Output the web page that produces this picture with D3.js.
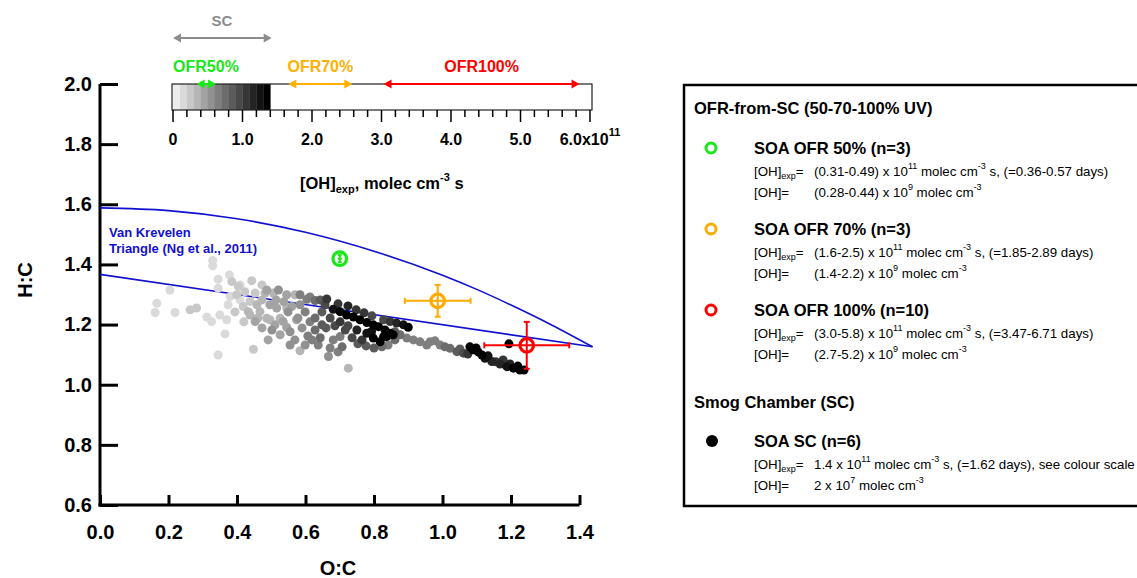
<!DOCTYPE html>
<html><head><meta charset="utf-8">
<script src="https://cdn.jsdelivr.net/npm/d3@7"></script>
<style>body{margin:0;background:#fff}svg{display:block;font-family:Arial,"Liberation Sans",sans-serif}</style>
</head><body><svg id="c" width="1137" height="578"></svg>
<script>
// ---------- data ----------
const xTicks = [0, 0.2, 0.4, 0.6, 0.8, 1.0, 1.2, 1.4];
const yTicks = [0.6, 0.8, 1.0, 1.2, 1.4, 1.6, 1.8, 2.0];
const cbMajorTicks = [0, 1, 2, 3, 4, 5, 6];
const cbTickLabels = ["0", "1.0", "2.0", "3.0", "4.0", "5.0", "6.0x10"];
const cbBands = [0, 0.1, 0.2, 0.3, 0.4, 0.5, 0.6, 0.7, 0.8, 0.9, 1.0, 1.1, 1.2, 1.3];

// Van Krevelen triangle (Ng et al., 2011)
const vkUpperOC = [0, 0.2, 0.4, 0.6, 0.8, 1.0, 1.1, 1.2, 1.32, 1.438];
const vkUpperHC = [1.588, 1.579, 1.552, 1.507, 1.444, 1.364, 1.317, 1.265, 1.198, 1.126];
const vkLowerOC = [0, 1.438];
const vkLowerHC = [1.367, 1.126];

// Smog chamber SOA points: O:C, H:C, OH exposure (1e11 molec cm-3 s)
const scOC = [0.329,0.329,0.378,0.443,0.345,0.385,0.404,0.409,0.345,0.204,0.166,0.161,0.219,0.263,0.282,0.312,0.326,0.350,0.370,0.365,0.345,0.448,0.380,0.399,0.409,0.418,0.438,0.433,0.453,0.458,0.453,0.467,0.482,0.487,0.496,0.506,0.516,0.526,0.535,0.545,0.545,0.560,0.569,0.574,0.511,0.545,0.487,0.521,0.584,0.667,0.725,0.604,0.628,0.662,0.681,0.701,0.584,0.599,0.578,0.613,0.590,0.628,0.607,0.643,0.555,0.569,0.648,0.672,0.660,0.686,0.637,0.672,0.707,0.549,0.681,0.701,0.720,0.740,0.759,0.779,0.798,0.813,0.832,0.847,0.856,0.695,0.724,0.748,0.771,0.794,0.750,0.779,0.798,0.818,0.793,0.724,0.765,0.837,0.828,0.828,0.847,0.866,0.886,0.900,0.876,0.896,0.915,0.934,0.954,0.964,0.993,1.022,1.042,1.061,0.861,0.841,1.089,1.104,1.115,1.124,1.144,1.168,1.188,1.207,1.226,1.238,1.156,1.194,
  0.473,0.496,0.473,0.502,0.526,0.491,0.555,0.599,0.619,0.584,0.613,0.643,0.657,0.628,0.648,0.701,0.716,0.736,0.753,0.777,0.800,0.823,0.695,0.438,0.461,0.420,0.394,0.374,0.423,0.473,0.514,0.537,0.861,0.978,1.007,1.051,1.074,1.080,1.098,1.133,1.177,1.197,1.220];
const scHC = [1.413,1.395,1.365,1.346,1.351,1.343,1.327,1.332,1.321,1.315,1.271,1.240,1.240,1.249,1.255,1.225,1.210,1.232,1.216,1.169,1.099,1.118,1.293,1.299,1.282,1.260,1.277,1.243,1.305,1.266,1.210,1.243,1.305,1.221,1.216,1.305,1.255,1.221,1.210,1.299,1.255,1.260,1.299,1.216,1.199,1.191,1.315,1.315,1.113,1.094,1.055,1.284,1.280,1.285,1.149,1.160,1.266,1.242,1.222,1.209,1.189,1.182,1.162,1.156,1.176,1.149,1.242,1.222,1.189,1.196,1.132,1.122,1.126,1.242,1.251,1.243,1.232,1.225,1.216,1.207,1.199,1.193,1.182,1.171,1.166,1.269,1.262,1.249,1.239,1.229,1.182,1.171,1.155,1.143,1.177,1.196,1.149,1.160,1.160,1.216,1.210,1.205,1.199,1.191,1.166,1.155,1.149,1.143,1.132,1.143,1.132,1.121,1.110,1.105,1.149,1.132,1.116,1.109,1.099,1.088,1.077,1.069,1.060,1.055,1.049,1.049,1.076,1.136,
  1.282,1.266,1.189,1.182,1.166,1.149,1.132,1.132,1.149,1.299,1.292,1.282,1.266,1.222,1.199,1.209,1.182,1.156,1.136,1.129,1.122,1.126,1.109,1.232,1.222,1.209,1.242,1.266,1.309,1.332,1.282,1.276,1.176,1.146,1.126,1.119,1.102,1.126,1.122,1.096,1.082,1.069,1.062];
const scOH = [0.1,0.1,0.15,0.2,0.1,0.2,0.2,0.15,0.1,0.1,0.1,0.1,0.1,0.2,0.2,0.1,0.1,0.15,0.15,0.1,0.1,0.2,0.15,0.2,0.1,0.25,0.2,0.3,0.25,0.3,0.4,0.3,0.3,0.35,0.3,0.35,0.45,0.35,0.45,0.4,0.35,0.4,0.3,0.45,0.4,0.45,0.45,0.5,0.35,0.5,0.3,0.6,0.7,1.0,0.6,0.6,0.55,0.6,0.5,0.65,0.55,0.7,0.6,0.7,0.5,0.55,0.85,0.9,0.8,0.9,0.6,0.65,0.7,0.5,1.2,1.3,1.35,1.35,1.35,1.35,1.35,1.35,1.35,1.35,1.35,1.05,1.1,1.0,1.0,0.9,1.1,1.2,1.3,1.3,1.25,0.95,1.0,1.35,1.35,0.9,1.0,1.1,1.2,1.3,0.7,0.6,0.6,0.6,0.65,0.6,0.65,0.7,0.8,0.9,0.7,0.6,1.35,1.35,1.35,1.2,1.1,1.1,1.2,1.35,1.35,1.35,1.0,1.35,
  0.35,0.4,0.45,0.5,0.45,0.4,0.5,0.55,0.6,0.6,0.65,0.8,0.9,0.75,0.8,1.0,0.9,0.9,0.8,0.85,0.8,0.7,0.6,0.3,0.35,0.25,0.2,0.15,0.2,0.25,0.4,0.45,0.8,0.6,0.7,0.85,1.0,1.3,1.35,1.2,1.0,1.1,1.3];

// OFR averages with error bars
const ofrNames = ["OFR 50%", "OFR 70%", "OFR 100%"];
const ofrColors = ["#18e818", "#ffaa00", "#ff0000"];
const ofrOC = [0.700, 0.986, 1.246];
const ofrHC = [1.419, 1.279, 1.131];
const ofrOCerr = [0.006, 0.096, 0.124];
const ofrHCerr = [0.012, 0.053, 0.078];

// colour-scale range arrows (OH exposure, 1e11 molec cm-3 s)
const rangeNames = ["SC", "OFR50%", "OFR70%", "OFR100%"];
const rangeColors = ["#8c8c8c", "#18e818", "#ffb000", "#ff0000"];
const rangeLo = [0, 0.34, 1.66, 3.03];
const rangeHi = [1.42, 0.62, 2.58, 5.85];

// legend
const legendHeaders = ["OFR-from-SC (50-70-100% UV)", "Smog Chamber (SC)"];
const legendNames = ["SOA OFR 50% (n=3)", "SOA OFR 70% (n=3)", "SOA OFR 100% (n=10)", "SOA SC (n=6)"];
const legendExpRange = ["(0.31-0.49) x 10", "(1.6-2.5) x 10", "(3.0-5.8) x 10", "1.4 x 10"];
const legendExpDays = [" s, (=0.36-0.57 days)", " s, (=1.85-2.89 days)", " s, (=3.47-6.71 days)", " s, (=1.62 days), see colour scale"];
const legendOHRange = ["(0.28-0.44) x 10", "(1.4-2.2) x 10", "(2.7-5.2) x 10", "2 x 10"];
const legendOHPow = ["9", "9", "9", "7"];

// ---------- drawing ----------
const svg = d3.select("#c");
const x = d3.scaleLinear([0, 1.4], [100, 579.5]);
const y = d3.scaleLinear([0.6, 2.0], [505, 84]);
const cb = d3.scaleLinear([0, 6], [173, 590]);
const grey = v => { const i = Math.min(13, Math.floor(v * 10 + 1e-6)); const g = Math.round(236 - i * 236 / 13); return d3.rgb(g, g, g).toString(); };
const F = "Arial, 'Liberation Sans', sans-serif";

// Axes
const gx = svg.append("g").attr("transform", "translate(0,505)")
  .call(d3.axisBottom(x).tickValues(xTicks).tickFormat(d3.format(".1f")).tickSize(-10).tickSizeOuter(0).tickPadding(20));
const gy = svg.append("g").attr("transform", "translate(100,0)")
  .call(d3.axisLeft(y).tickValues(yTicks).tickFormat(d3.format(".1f")).tickSize(-18).tickSizeOuter(0).tickPadding(8));
[gx, gy].forEach(g => {
  g.select(".domain").attr("stroke", "#000").attr("stroke-width", 3);
  g.selectAll(".tick line").attr("stroke", "#000").attr("stroke-width", 3);
  g.selectAll(".tick text").attr("fill", "#000").style("font", `bold 20px ${F}`);
});
gy.select(".domain").attr("d", `M0,${y(2.0)}V${y(0.6) + 1.5}`);
gx.select(".domain").attr("d", `M${x(0) - 1.5},0H${x(1.4)}`);

svg.append("text").attr("x", 338).attr("y", 575).attr("text-anchor", "middle")
  .style("font", `bold 20px ${F}`).text("O:C");
svg.append("text").attr("transform", "translate(32,280) rotate(-90)").attr("text-anchor", "middle")
  .style("font", `bold 20px ${F}`).text("H:C");

// Van Krevelen triangle
svg.append("path").datum(vkUpperOC.map((v, i) => [v, vkUpperHC[i]]))
  .attr("d", d3.line().x(d => x(d[0])).y(d => y(d[1])).curve(d3.curveMonotoneX))
  .attr("fill", "none").attr("stroke", "#1010d0").attr("stroke-width", 1.6);
svg.append("path").datum(vkLowerOC.map((v, i) => [v, vkLowerHC[i]]))
  .attr("d", d3.line().x(d => x(d[0])).y(d => y(d[1])))
  .attr("fill", "none").attr("stroke", "#1010d0").attr("stroke-width", 1.6);
const vkT = svg.append("text").attr("fill", "#1010d0").style("font", `bold 13px ${F}`);
vkT.append("tspan").attr("x", 109).attr("y", 237).text("Van Krevelen");
vkT.append("tspan").attr("x", 109).attr("y", 253).text("Triangle (Ng et al., 2011)");

// SC scatter (darker on top)
const sc = scOC.map((v, i) => ({ oc: v, hc: scHC[i], oh: scOH[i] })).sort((a, b) => a.oh - b.oh);
svg.append("g").selectAll("circle").data(sc).join("circle")
  .attr("cx", d => x(d.oc)).attr("cy", d => y(d.hc)).attr("r", 4.5)
  .attr("fill", d => grey(d.oh));

// OFR markers
const ofr = svg.append("g");
ofrOC.forEach((oc, i) => {
  const c = ofrColors[i], cx = x(oc), cy = y(ofrHC[i]);
  const cap = i === 0 ? 2 : 3;
  const x0 = x(oc - ofrOCerr[i]), x1 = x(oc + ofrOCerr[i]);
  const y0 = y(ofrHC[i] - ofrHCerr[i]), y1 = y(ofrHC[i] + ofrHCerr[i]);
  const g = ofr.append("g").attr("stroke", c).attr("stroke-width", 2);
  g.append("line").attr("x1", x0).attr("x2", x1).attr("y1", cy).attr("y2", cy);
  g.append("line").attr("x1", cx).attr("x2", cx).attr("y1", y0).attr("y2", y1);
  if (i > 0) {
    g.append("line").attr("x1", x0).attr("x2", x0).attr("y1", cy - cap).attr("y2", cy + cap);
    g.append("line").attr("x1", x1).attr("x2", x1).attr("y1", cy - cap).attr("y2", cy + cap);
  }
  g.append("line").attr("x1", cx - cap).attr("x2", cx + cap).attr("y1", y0).attr("y2", y0);
  g.append("line").attr("x1", cx - cap).attr("x2", cx + cap).attr("y1", y1).attr("y2", y1);
  g.append("circle").attr("cx", cx).attr("cy", cy).attr("r", 6.8).attr("fill", "none").attr("stroke-width", 3.2);
});

// Colour bar
const bar = svg.append("g");
bar.selectAll("rect.band").data(cbBands).join("rect").attr("class", "band")
  .attr("x", d => cb(d)).attr("width", d => cb(d + 0.1) - cb(d) + 0.3).attr("y", 84).attr("height", 26)
  .attr("fill", d => grey(d + 0.05));
bar.append("rect").attr("x", cb(0) - 1).attr("y", 84).attr("width", cb(6) - cb(0) + 3).attr("height", 26)
  .attr("fill", "none").attr("stroke", "#222").attr("stroke-width", 1.2);
const minor = d3.range(0, 30).map(i => i / 5);
bar.selectAll("line.tk").data(minor).join("line").attr("class", "tk")
  .attr("x1", d => cb(d)).attr("x2", d => cb(d)).attr("y1", 110)
  .attr("y2", d => cbMajorTicks.includes(Math.round(d * 1000) / 1000) ? 122 : 117)
  .attr("stroke", "#000").attr("stroke-width", 1.5);
bar.append("line").attr("x1", cb(6)).attr("x2", cb(6)).attr("y1", 110).attr("y2", 122).attr("stroke", "#000").attr("stroke-width", 1.5);
cbMajorTicks.forEach((t, i) => {
  const tx = bar.append("text").attr("x", cb(t)).attr("y", 145).attr("text-anchor", "middle")
    .style("font", `bold 16px ${F}`);
  tx.append("tspan").text(cbTickLabels[i]);
  if (i === cbMajorTicks.length - 1) tx.append("tspan").attr("dy", -9).style("font-size", "11px").text("11");
});
const cbt = svg.append("text").attr("x", 300).attr("y", 189).style("font", `bold 16.5px ${F}`);
cbt.append("tspan").text("[OH]");
cbt.append("tspan").attr("dy", 4).style("font-size", "11px").text("exp");
cbt.append("tspan").attr("dy", -4).text(", molec cm");
cbt.append("tspan").attr("dy", -8).style("font-size", "11px").text("-3");
cbt.append("tspan").attr("dy", 8).text(" s");

// Range arrows
const arrowY = [38, 84, 84, 84];
const labelY = [26, 72, 72, 72];
rangeNames.forEach((n, i) => {
  const c = rangeColors[i], a = cb(rangeLo[i]), b = cb(rangeHi[i]), yy = arrowY[i];
  const g = svg.append("g");
  g.append("line").attr("x1", a + 6).attr("x2", b - 6).attr("y1", yy).attr("y2", yy).attr("stroke", c).attr("stroke-width", 2);
  g.append("path").attr("d", `M${a},${yy}L${a + 8},${yy - 4.5}L${a + 8},${yy + 4.5}Z`).attr("fill", c);
  g.append("path").attr("d", `M${b},${yy}L${b - 8},${yy - 4.5}L${b - 8},${yy + 4.5}Z`).attr("fill", c);
  const lx = i === 0 ? 222 : (i === 1 ? 206 : (a + b) / 2);
  svg.append("text").attr("x", lx).attr("y", labelY[i]).attr("text-anchor", "middle").attr("fill", c)
    .style("font", `bold ${i === 0 ? 15 : 16}px ${F}`).text(n);
});

// Legend box
const lg = svg.append("g");
lg.append("rect").attr("x", 684).attr("y", 85).attr("width", 520).attr("height", 421)
  .attr("fill", "#fff").attr("stroke", "#000").attr("stroke-width", 2.5);
const hdrFont = `bold 16.5px ${F}`;
lg.append("text").attr("x", 694).attr("y", 114).style("font", hdrFont).text(legendHeaders[0]);
lg.append("text").attr("x", 694).attr("y", 408).style("font", hdrFont).text(legendHeaders[1]);
const markY = [148, 229, 310, 441];
const bodyFont = `13.3px ${F}`;
legendNames.forEach((n, i) => {
  const my = markY[i];
  if (i < 3) lg.append("circle").attr("cx", 711).attr("cy", my).attr("r", 5).attr("fill", "none").attr("stroke", ofrColors[i]).attr("stroke-width", 3);
  else lg.append("circle").attr("cx", 712).attr("cy", my).attr("r", 6).attr("fill", "#000");
  lg.append("text").attr("x", 754).attr("y", my + 6).style("font", `bold 16.5px ${F}`).text(n);
  const t1 = lg.append("text").attr("x", 754).attr("y", my + 28).style("font", bodyFont);
  t1.append("tspan").text("[OH]");
  t1.append("tspan").attr("dy", 3).style("font-size", "9px").text("exp");
  t1.append("tspan").attr("dy", -3).text("=");
  const t1b = lg.append("text").attr("x", 814).attr("y", my + 28).style("font", bodyFont);
  t1b.append("tspan").text(legendExpRange[i]);
  t1b.append("tspan").attr("dy", -7).style("font-size", "9px").text("11");
  t1b.append("tspan").attr("dy", 7).text(" molec cm");
  t1b.append("tspan").attr("dy", -7).style("font-size", "9px").text("-3");
  t1b.append("tspan").attr("dy", 7).text(legendExpDays[i]);
  lg.append("text").attr("x", 754).attr("y", my + 49).style("font", bodyFont).text("[OH]=");
  const t2b = lg.append("text").attr("x", 814).attr("y", my + 49).style("font", bodyFont);
  t2b.append("tspan").text(legendOHRange[i]);
  t2b.append("tspan").attr("dy", -7).style("font-size", "9px").text(legendOHPow[i]);
  t2b.append("tspan").attr("dy", 7).text(" molec cm");
  t2b.append("tspan").attr("dy", -7).style("font-size", "9px").text("-3");
});
</script></body></html>
